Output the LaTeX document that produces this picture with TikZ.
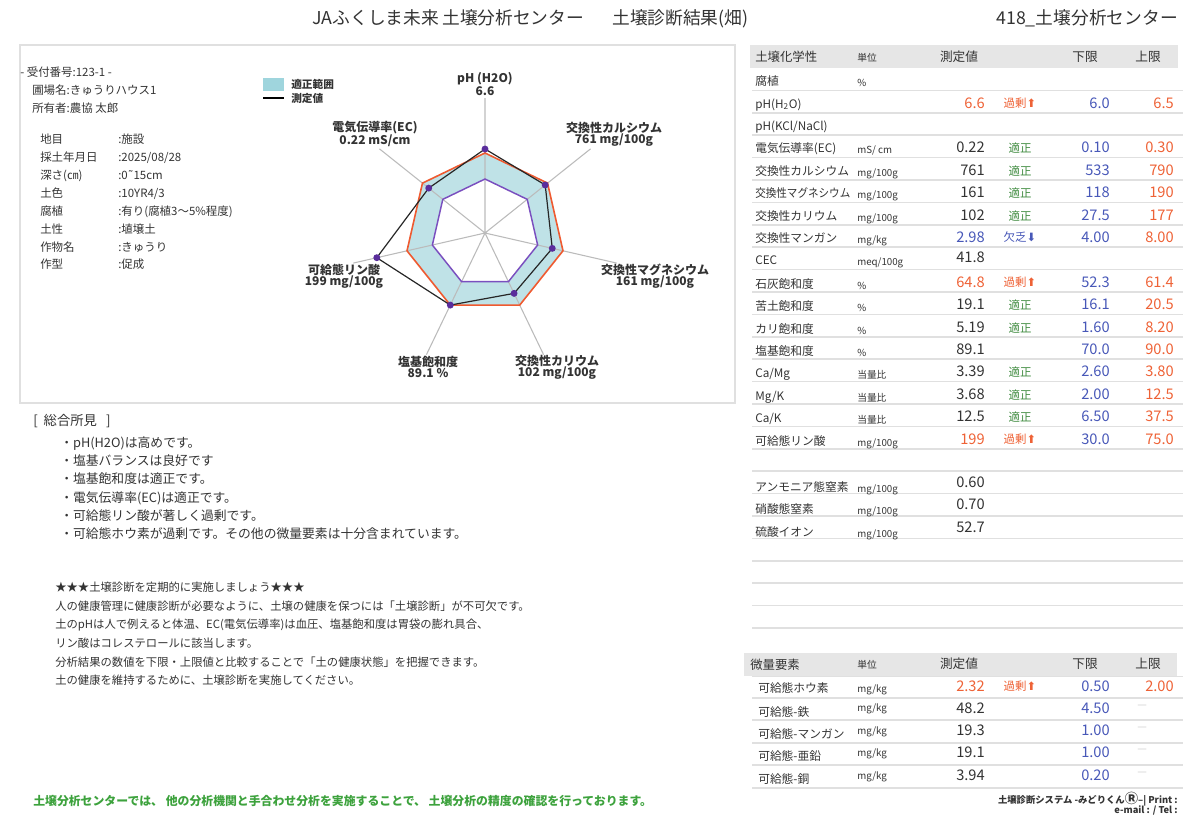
\documentclass[tikz,border=0pt]{standalone}
\usepackage{fontspec}
\setmainfont{Noto Sans CJK JP}
\newfontfamily\symfont{DejaVu Sans}
\definecolor{ink}{HTML}{333333}
\definecolor{over}{HTML}{EE6236}
\definecolor{low}{HTML}{4858B8}
\definecolor{okgreen}{HTML}{3E8A3E}
\definecolor{rangefill}{HTML}{BFE2E7}
\definecolor{legfill}{HTML}{9FD5DD}
\definecolor{limitred}{HTML}{EF5A30}
\definecolor{limitpurple}{HTML}{7A4FBF}
\definecolor{dotpurple}{HTML}{5A2D9C}
\definecolor{rule}{HTML}{E0E0E0}
\definecolor{headgray}{HTML}{E6E6E6}
\definecolor{axisgray}{HTML}{BBBBBB}
\definecolor{footgreen}{HTML}{3DA23D}
\newcommand{\fsz}[1]{\fontsize{#1}{#1}\selectfont}
\newcommand{\arrup}{{\symfont ⬆}}
\newcommand{\arrdn}{{\symfont ⬇}}

\begin{document}
\begin{tikzpicture}[x=0.75pt,y=-0.75pt,
    every node/.style={inner sep=0pt,text=ink},
    rowname/.style={anchor=base west,font=\fsz{8.8}},
    rowunit/.style={anchor=base west,font=\fsz{7.3}},
    rowval/.style={anchor=base east,font=\fsz{11}},
    judge/.style={anchor=base,font=\fsz{8.6}},
    colhead/.style={anchor=base,font=\fsz{9.5}},
    info/.style={anchor=base west,font=\fsz{8.6}},
    body/.style={anchor=base west,font=\fsz{8.5}},
    axislabel/.style={align=center,font=\bfseries\fontsize{9}{8.4}\selectfont},
    rowline/.style={draw=rule,line width=1.3pt}]
\useasboundingbox (0,0) rectangle (1201,815);

% page header
\node[anchor=base west,font=\fsz{13.3}] (title) at (312,24.5) {JAふくしま未来};
\node[anchor=base west,font=\fsz{13.3}] (titlelab) at (442,24.5) {土壌分析センター};
\node[anchor=base west,font=\fsz{13.3}] (titlerep) at (612,24.5) {土壌診断結果(畑)};
\node[anchor=base east,font=\fsz{13.3}] (center) at (1178,24.5) {418\_土壌分析センター};

% sample info panel
\draw[rule,line width=1.1pt] (20,45) rectangle (735,403);
\node[info] (recno) at (20,76.5) {- 受付番号:123-1 -};
\node[info] (field) at (32,94.5) {圃場名:きゅうりハウス1};
\node[info] (owner) at (32,112.5) {所有者:農協 太郎};
\node[info] (k1) at (40,143.5) {地目};       \node[info] (i1) at (118,143.5) {:施設};
\node[info] (k2) at (40,161.5) {採土年月日}; \node[info] (i2) at (118,161.5) {:2025/08/28};
\node[info] (k3) at (40,179.5) {深さ(㎝)};   \node[info] (i3) at (118,179.5) {:0{\symfont ˜}15cm};
\node[info] (k4) at (40,197.5) {土色};       \node[info] (i4) at (118,197.5) {:10YR4/3};
\node[info] (k5) at (40,215.5) {腐植};       \node[info] (i5) at (118,215.5) {:有り(腐植3～5\%程度)};
\node[info] (k6) at (40,233.5) {土性};       \node[info] (i6) at (118,233.5) {:埴壌土};
\node[info] (k7) at (40,251.5) {作物名};     \node[info] (i7) at (118,251.5) {:きゅうり};
\node[info] (k8) at (40,268.5) {作型};       \node[info] (i8) at (118,268.5) {:促成};

% legend
\fill[legfill] (263,78) rectangle (284,91);
\draw[black,line width=1.1pt] (263,98) -- (284,98);
\node[anchor=west,font=\bfseries\fsz{8}] (legrange) at (291,84.5) {適正範囲};
\node[anchor=west,font=\bfseries\fsz{8}] (legmeas) at (291,98) {測定値};

% radar chart
\begin{scope}[shift={(485,233)}]
  \coordinate (rc) at (0,0);
  \fill[rangefill,even odd rule] (-90:80) -- (-38.57:80) -- (12.86:80) -- (64.29:80) -- (115.71:80) -- (167.14:80) -- (218.57:80) -- cycle
    (-90:54) -- (-38.57:54) -- (12.86:54) -- (64.29:54) -- (115.71:54) -- (167.14:54) -- (218.57:54) -- cycle;
  \draw[axisgray,line width=0.8pt] (rc) -- (-90:135) (rc) -- (-38.57:135) (rc) -- (12.86:135) (rc) -- (64.29:135)
    (rc) -- (115.71:135) (rc) -- (167.14:135) (rc) -- (218.57:135);
  \draw[limitred,line width=1.2pt] (-90:80) -- (-38.57:80) -- (12.86:80) -- (64.29:80) -- (115.71:80) -- (167.14:80) -- (218.57:80) -- cycle;
  \draw[limitpurple,line width=1.1pt] (-90:54) -- (-38.57:54) -- (12.86:54) -- (64.29:54) -- (115.71:54) -- (167.14:54) -- (218.57:54) -- cycle;
  \coordinate (mph) at (-90:84);
  \coordinate (mca) at (-38.57:77);
  \coordinate (mmg) at (12.86:69);
  \coordinate (mk) at (64.29:67);
  \coordinate (mbase) at (115.71:80);
  \coordinate (mp) at (167.14:111);
  \coordinate (mec) at (218.57:72);
  \draw[black!85,line width=0.9pt] (mph) -- (mca) -- (mmg) -- (mk) -- (mbase) -- (mp) -- (mec) -- cycle;
  \fill[dotpurple] (mph) circle (2.6pt) (mca) circle (2.6pt) (mmg) circle (2.6pt) (mk) circle (2.6pt)
    (mbase) circle (2.6pt) (mp) circle (2.6pt) (mec) circle (2.6pt);
\end{scope}
\node[axislabel] (lph) at (485,84) {pH (H2O)\\6.6};
\node[axislabel] (lca) at (614,134) {交換性カルシウム\\761 mg/100g};
\node[axislabel] (lmg) at (655,276) {交換性マグネシウム\\161 mg/100g};
\node[axislabel] (lk) at (557,367) {交換性カリウム\\102 mg/100g};
\node[axislabel] (lbase) at (428,367) {塩基飽和度\\89.1 \%};
\node[axislabel] (lp) at (344,276) {可給態リン酸\\199 mg/100g};
\node[axislabel] (lec) at (375,134) {電気伝導率(EC)\\0.22 mS/cm};

% comments
\node[anchor=base west,font=\fsz{10}] (summary) at (33,425) {[\ \ 総合所見\ \ \ ]};
\node[body,font=\fsz{9.6}] (s1) at (60,447) {・pH(H2O)は高めです。};
\node[body,font=\fsz{9.6}] (s2) at (60,465) {・塩基バランスは良好です};
\node[body,font=\fsz{9.6}] (s3) at (60,483) {・塩基飽和度は適正です。};
\node[body,font=\fsz{9.6}] (s4) at (60,502) {・電気伝導率(EC)は適正です。};
\node[body,font=\fsz{9.6}] (s5) at (60,520) {・可給態リン酸が著しく過剰です。};
\node[body,font=\fsz{9.6}] (s6) at (60,538) {・可給態ホウ素が過剰です。その他の微量要素は十分含まれています。};

\node[body] (t1) at (55,591) {★★★土壌診断を定期的に実施しましょう★★★};
\node[body] (t2) at (55,610) {人の健康管理に健康診断が必要なように、土壌の健康を保つには「土壌診断」が不可欠です。};
\node[body] (t3) at (55,628) {土のpHは人で例えると体温、EC(電気伝導率)は血圧、塩基飽和度は胃袋の膨れ具合、};
\node[body] (t4) at (55,647) {リン酸はコレステロールに該当します。};
\node[body] (t5) at (55,666) {分析結果の数値を下限・上限値と比較することで「土の健康状態」を把握できます。};
\node[body] (t6) at (55,684) {土の健康を維持するために、土壌診断を実施してください。};

\node[anchor=base west,font=\bfseries\fsz{8.9},text=footgreen] (footnote) at (33,805) {土壌分析センターでは、 他の分析機関と手合わせ分析を実施することで、 土壌分析の精度の確認を行っております。};

% soil chemistry table
\fill[headgray] (750,45) rectangle (1178,68);
\draw[rowline] (752,90.4) -- (1183,90.4) (752,112.8) -- (1183,112.8) (752,135.2) -- (1183,135.2) (752,157.6) -- (1183,157.6)
  (752,180) -- (1183,180) (752,202.4) -- (1183,202.4) (752,224.8) -- (1183,224.8) (752,247.2) -- (1183,247.2)
  (752,269.6) -- (1183,269.6) (752,292) -- (1183,292) (752,314.4) -- (1183,314.4) (752,336.8) -- (1183,336.8)
  (752,359.2) -- (1183,359.2) (752,381.6) -- (1183,381.6) (752,404) -- (1183,404) (752,426.4) -- (1183,426.4)
  (752,448.8) -- (1183,448.8) (752,471.2) -- (1183,471.2) (752,493.6) -- (1183,493.6) (752,516) -- (1183,516)
  (752,538.4) -- (1183,538.4) (752,560.8) -- (1183,560.8) (752,583.2) -- (1183,583.2) (752,605.6) -- (1183,605.6)
  (752,628) -- (1183,628);
\node[rowname,font=\fsz{9.3}] (hname) at (755,61) {土壌化学性};
\node[rowunit] (hunit) at (857,61) {単位};
\node[colhead] (hval) at (959,61) {測定値};
\node[colhead] (hlow) at (1085,61) {下限};
\node[colhead] (hup) at (1148,61) {上限};

\node[rowname] (n1) at (755,85) {腐植}; \node[rowunit] (u1) at (857,86) {\%};
\node[rowname] (n2) at (755,108) {pH(H\textsubscript{2}O)};
\node[rowval,text=over] (v2) at (985,108) {6.6}; \node[judge,text=over] (j2) at (1020,107) {過剰\arrup};
\node[rowval,text=low] (lo2) at (1110,108) {6.0}; \node[rowval,text=over] (up2) at (1174,108) {6.5};
\node[rowname] (n3) at (755,130) {pH(KCl/NaCl)};
\node[rowname] (n4) at (755,152) {電気伝導率(EC)}; \node[rowunit] (u4) at (857,153) {mS/ cm};
\node[rowval] (v4) at (985,152) {0.22}; \node[judge,text=okgreen] (j4) at (1020,152) {適正};
\node[rowval,text=low] (lo4) at (1110,152) {0.10}; \node[rowval,text=over] (up4) at (1174,152) {0.30};
\node[rowname] (n5) at (755,175) {交換性カルシウム}; \node[rowunit] (u5) at (857,176) {mg/100g};
\node[rowval] (v5) at (985,175) {761}; \node[judge,text=okgreen] (j5) at (1020,175) {適正};
\node[rowval,text=low] (lo5) at (1110,175) {533}; \node[rowval,text=over] (up5) at (1174,175) {790};
\node[rowname] (n6) at (755,197) {\scalebox{0.9}[1]{交換性マグネシウム}}; \node[rowunit] (u6) at (857,198) {mg/100g};
\node[rowval] (v6) at (985,197) {161}; \node[judge,text=okgreen] (j6) at (1020,197) {適正};
\node[rowval,text=low] (lo6) at (1110,197) {118}; \node[rowval,text=over] (up6) at (1174,197) {190};
\node[rowname] (n7) at (755,220) {交換性カリウム}; \node[rowunit] (u7) at (857,221) {mg/100g};
\node[rowval] (v7) at (985,220) {102}; \node[judge,text=okgreen] (j7) at (1020,220) {適正};
\node[rowval,text=low] (lo7) at (1110,220) {27.5}; \node[rowval,text=over] (up7) at (1174,220) {177};
\node[rowname] (n8) at (755,242) {交換性マンガン}; \node[rowunit] (u8) at (857,243) {mg/kg};
\node[rowval,text=low] (v8) at (985,242) {2.98}; \node[judge,text=low] (j8) at (1020,241) {欠乏\arrdn};
\node[rowval,text=low] (lo8) at (1110,242) {4.00}; \node[rowval,text=over] (up8) at (1174,242) {8.00};
\node[rowname] (n9) at (755,264) {CEC}; \node[rowunit] (u9) at (857,265) {meq/100g};
\node[rowval] (v9) at (985,262) {41.8};
\node[rowname] (n10) at (755,288) {石灰飽和度}; \node[rowunit] (u10) at (857,289) {\%};
\node[rowval,text=over] (v10) at (985,287) {64.8}; \node[judge,text=over] (j10) at (1020,286) {過剰\arrup};
\node[rowval,text=low] (lo10) at (1110,287) {52.3}; \node[rowval,text=over] (up10) at (1174,287) {61.4};
\node[rowname] (n11) at (755,310) {苦土飽和度}; \node[rowunit] (u11) at (857,311) {\%};
\node[rowval] (v11) at (985,309) {19.1}; \node[judge,text=okgreen] (j11) at (1020,309) {適正};
\node[rowval,text=low] (lo11) at (1110,309) {16.1}; \node[rowval,text=over] (up11) at (1174,309) {20.5};
\node[rowname] (n12) at (755,333) {カリ飽和度}; \node[rowunit] (u12) at (857,334) {\%};
\node[rowval] (v12) at (985,332) {5.19}; \node[judge,text=okgreen] (j12) at (1020,332) {適正};
\node[rowval,text=low] (lo12) at (1110,332) {1.60}; \node[rowval,text=over] (up12) at (1174,332) {8.20};
\node[rowname] (n13) at (755,355) {塩基飽和度}; \node[rowunit] (u13) at (857,356) {\%};
\node[rowval] (v13) at (985,354) {89.1};
\node[rowval,text=low] (lo13) at (1110,354) {70.0}; \node[rowval,text=over] (up13) at (1174,354) {90.0};
\node[rowname] (n14) at (755,377) {Ca/Mg}; \node[rowunit] (u14) at (857,378) {当量比};
\node[rowval] (v14) at (985,376) {3.39}; \node[judge,text=okgreen] (j14) at (1020,376) {適正};
\node[rowval,text=low] (lo14) at (1110,376) {2.60}; \node[rowval,text=over] (up14) at (1174,376) {3.80};
\node[rowname] (n15) at (755,400) {Mg/K}; \node[rowunit] (u15) at (857,401) {当量比};
\node[rowval] (v15) at (985,399) {3.68}; \node[judge,text=okgreen] (j15) at (1020,399) {適正};
\node[rowval,text=low] (lo15) at (1110,399) {2.00}; \node[rowval,text=over] (up15) at (1174,399) {12.5};
\node[rowname] (n16) at (755,422) {Ca/K}; \node[rowunit] (u16) at (857,423) {当量比};
\node[rowval] (v16) at (985,421) {12.5}; \node[judge,text=okgreen] (j16) at (1020,421) {適正};
\node[rowval,text=low] (lo16) at (1110,421) {6.50}; \node[rowval,text=over] (up16) at (1174,421) {37.5};
\node[rowname] (n17) at (755,445) {可給態リン酸}; \node[rowunit] (u17) at (857,446) {mg/100g};
\node[rowval,text=over] (v17) at (985,444) {199}; \node[judge,text=over] (j17) at (1020,443) {過剰\arrup};
\node[rowval,text=low] (lo17) at (1110,444) {30.0}; \node[rowval,text=over] (up17) at (1174,444) {75.0};

\node[rowname] (n18) at (755,491) {アンモニア態窒素}; \node[rowunit] (u18) at (857,492) {mg/100g};
\node[rowval] (v18) at (985,487) {0.60};
\node[rowname] (n19) at (755,513) {硝酸態窒素}; \node[rowunit] (u19) at (857,514) {mg/100g};
\node[rowval] (v19) at (985,509) {0.70};
\node[rowname] (n20) at (755,536) {硫酸イオン}; \node[rowunit] (u20) at (857,537) {mg/100g};
\node[rowval] (v20) at (985,532) {52.7};

% trace elements table
\fill[headgray] (744,653) rectangle (1177,676);
\draw[rowline] (752,676.5) -- (1183,676.5) (752,698) -- (1183,698) (752,720) -- (1183,720) (752,743) -- (1183,743)
  (752,765) -- (1183,765) (752,788) -- (1183,788);
\node[rowname,font=\fsz{9.3}] (mhname) at (750,669) {微量要素};
\node[rowunit] (mhunit) at (857,668) {単位};
\node[colhead] (mhval) at (959,668) {測定値};
\node[colhead] (mhlow) at (1085,668) {下限};
\node[colhead] (mhup) at (1148,668) {上限};

\node[rowname] (mn1) at (758,692) {可給態ホウ素}; \node[rowunit] (mu1) at (857,692) {mg/kg};
\node[rowval,text=over] (mv1) at (985,691) {2.32}; \node[judge,text=over] (mj1) at (1020,690) {過剰\arrup};
\node[rowval,text=low] (ml1) at (1110,691) {0.50}; \node[rowval,text=over] (mh1) at (1174,691) {2.00};
\node[rowname] (mn2) at (758,716) {可給態-鉄}; \node[rowunit] (mu2) at (857,711) {mg/kg};
\node[rowval] (mv2) at (985,713) {48.2};
\node[rowval,text=low] (ml2) at (1110,713) {4.50}; \node[anchor=base,font=\fsz{8},text=black!20] (mh2) at (1142,708) {—};
\node[rowname] (mn3) at (758,738) {可給態-マンガン}; \node[rowunit] (mu3) at (857,734) {mg/kg};
\node[rowval] (mv3) at (985,735) {19.3};
\node[rowval,text=low] (ml3) at (1110,735) {1.00}; \node[anchor=base,font=\fsz{8},text=black!20] (mh3) at (1142,730) {—};
\node[rowname] (mn4) at (758,760) {可給態-亜鉛}; \node[rowunit] (mu4) at (857,756) {mg/kg};
\node[rowval] (mv4) at (985,757) {19.1};
\node[rowval,text=low] (ml4) at (1110,757) {1.00}; \node[anchor=base,font=\fsz{8},text=black!20] (mh4) at (1142,752) {—};
\node[rowname] (mn5) at (758,783) {可給態-銅}; \node[rowunit] (mu5) at (857,779) {mg/kg};
\node[rowval] (mv5) at (985,780) {3.94};
\node[rowval,text=low] (ml5) at (1110,780) {0.20}; \node[anchor=base,font=\fsz{8},text=black!20] (mh5) at (1142,775) {—};

% footer system note
\node[anchor=base east,font=\bfseries\fsz{7}] (sysname) at (1178,803) {土壌診断システム -みどりくん{\fsz{10}Ⓡ}--| Print :};
\node[anchor=base east,font=\bfseries\fsz{7}] (contact) at (1178,813) {e-mail : / Tel :};
\end{tikzpicture}
\end{document}
